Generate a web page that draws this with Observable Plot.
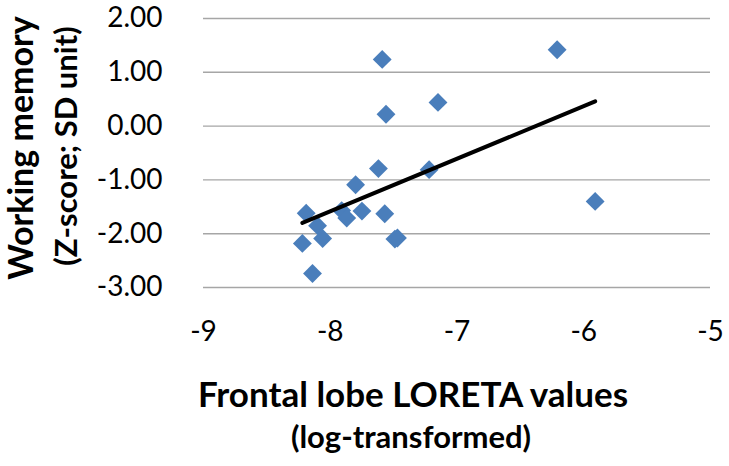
<!DOCTYPE html>
<html>
<head>
<meta charset="utf-8">
<script src="https://cdn.jsdelivr.net/npm/d3@7"></script>
<script src="https://cdn.jsdelivr.net/npm/@observablehq/plot@0.6"></script>
<style>
  html, body { margin: 0; padding: 0; background: #fff; }
  #chart { width: 729px; height: 466px; }
</style>
</head>
<body>
<div id="chart"></div>
<script>
// Frontal lobe LORETA values (log-transformed)
const loretaX = [-6.21, -5.91, -7.59, -7.56, -7.15, -7.62, -7.22, -7.80, -8.19, -8.10,
                 -8.22, -8.06, -8.14, -7.91, -7.87, -7.75, -7.57, -7.49, -7.47];
// Working memory (Z-score; SD unit)
const memoryY = [1.42, -1.40, 1.24, 0.22, 0.44, -0.79, -0.81, -1.09, -1.62, -1.85,
                 -2.18, -2.09, -2.74, -1.57, -1.71, -1.58, -1.63, -2.10, -2.08];
// Linear trend line endpoints
const trendX = [-8.22, -5.91];
const trendY = [-1.80, 0.46];
// Axis ticks
const xTicks = [-9, -8, -7, -6, -5];
const yTicks = [-3, -2, -1, 0, 1, 2];

const points = loretaX.map((x, i) => ({x, y: memoryY[i]}));
const trend = trendX.map((x, i) => ({x, y: trendY[i]}));

const font = "Lato, 'Open Sans', sans-serif";

const chart = Plot.plot({
  width: 729,
  height: 466,
  marginTop: 18,
  marginBottom: 179,
  marginLeft: 203,
  marginRight: 19,
  style: {fontFamily: font, fontSize: "28px", color: "#000", background: "#fff"},
  x: {domain: [-9, -5], ticks: xTicks, tickSize: 0, tickPadding: 34, tickFormat: d => String(d), label: null},
  y: {domain: [-3, 2], ticks: yTicks, tickSize: 0, tickPadding: 41, tickFormat: d => d.toFixed(2), label: null},
  marks: [
    Plot.ruleY(yTicks, {stroke: "#a6a6a6", strokeWidth: 1.4}),
    Plot.axisX({ticks: xTicks, tickSize: 0, tickPadding: 34, tickFormat: d => String(d), label: null, fontSize: 28}),
    Plot.axisY({ticks: yTicks, tickSize: 0, tickPadding: 41, tickFormat: d => d.toFixed(2), label: null, fontSize: 28}),
    Plot.dot(points, {x: "x", y: "y", symbol: "diamond2", r: 8.5, fill: "#4a7ebb", stroke: "none"}),
    Plot.line(trend, {x: "x", y: "y", stroke: "#000", strokeWidth: 4}),
    Plot.text(["Working memory"], {frameAnchor: "left", text: d => d, rotate: -90, textAnchor: "middle",
      dx: -181, dy: -5, fontSize: 34, fontWeight: "bold", fill: "#000"}),
    Plot.text(["(Z-score; SD unit)"], {frameAnchor: "left", text: d => d, rotate: -90, textAnchor: "middle",
      dx: -136, dy: -7, fontSize: 31, fontWeight: "bold", fill: "#000"}),
    Plot.text(["Frontal lobe LORETA values"], {frameAnchor: "bottom", text: d => d, textAnchor: "middle",
      dx: -44, dy: 119, fontSize: 35, fontWeight: "bold", fill: "#000"}),
    Plot.text(["(log-transformed)"], {frameAnchor: "bottom", text: d => d, textAnchor: "middle",
      dx: -46, dy: 160, fontSize: 31, fontWeight: "bold", fill: "#000"})
  ]
});
document.getElementById("chart").appendChild(chart);
</script>
</body>
</html>
